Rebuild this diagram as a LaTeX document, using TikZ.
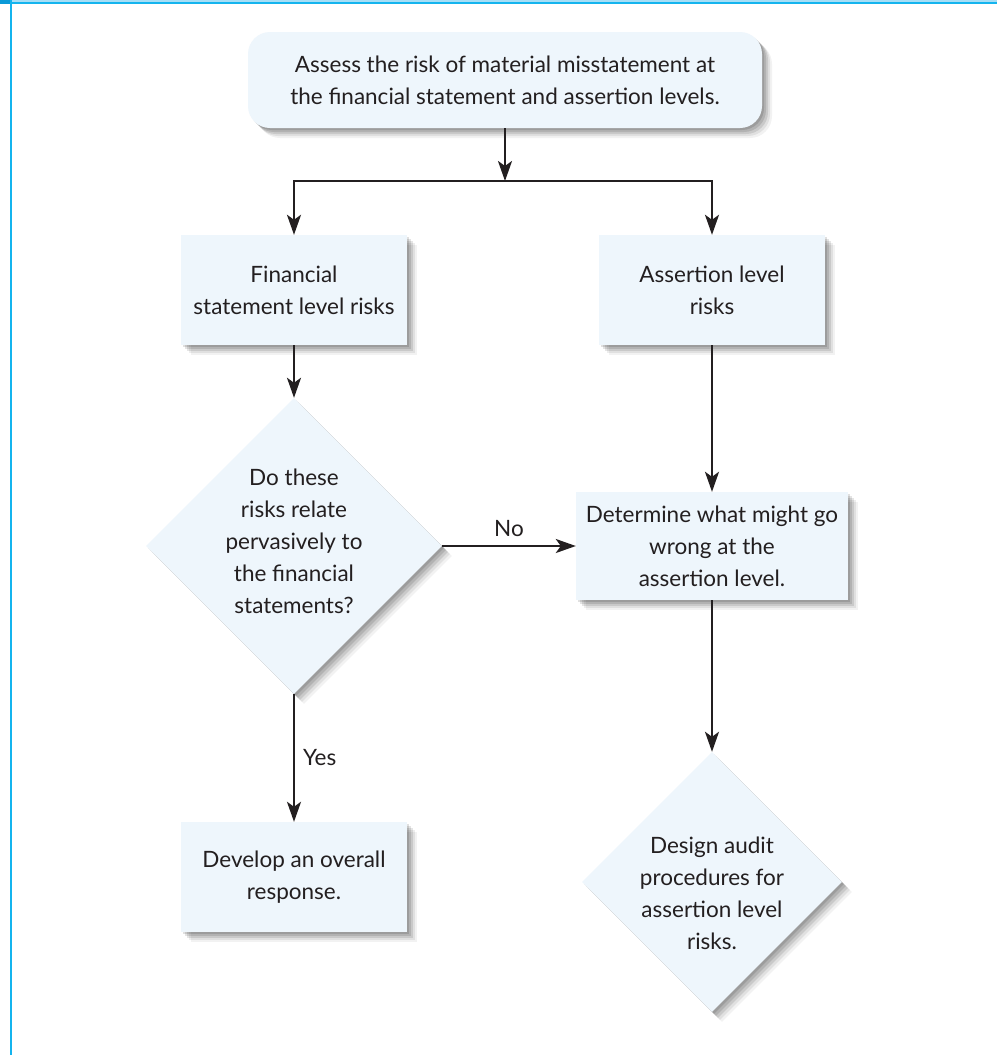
\documentclass[tikz,border=0pt]{standalone}
\usepackage{fontspec}
\setmainfont{Lato}
\usetikzlibrary{shapes.geometric,arrows.meta,shadows}

\definecolor{boxfill}{HTML}{EEF6FC}
\definecolor{inkgray}{HTML}{231F20}
\definecolor{framecyan}{HTML}{14B4EE}
\definecolor{bandlight}{HTML}{A6DEF6}
\definecolor{cornerblue}{HTML}{0A9AD8}

\tikzset{
  softshadow/.style={
    drop shadow={shadow xshift=10pt, shadow yshift=-10pt, opacity=0.05, fill=black},
    drop shadow={shadow xshift=8pt, shadow yshift=-8pt, opacity=0.07, fill=black},
    drop shadow={shadow xshift=6pt, shadow yshift=-6pt, opacity=0.10, fill=black},
    drop shadow={shadow xshift=4pt, shadow yshift=-4pt, opacity=0.11, fill=black},
    drop shadow={shadow xshift=2pt, shadow yshift=-2pt, opacity=0.12, fill=black}
  },
  txt/.style={text=inkgray, align=center, font=\fontsize{22.5}{32}\selectfont},
  stepbox/.style={rectangle, fill=boxfill, softshadow, txt, inner sep=0pt,
    minimum width=226pt, minimum height=110pt},
  widebox/.style={stepbox, minimum width=272pt, minimum height=108pt},
  startbox/.style={stepbox, rounded corners=22pt, minimum width=514pt, minimum height=96pt},
  decision/.style={diamond, fill=boxfill, softshadow, inner sep=0pt, shape aspect=1},
  flow/.style={draw=inkgray, line width=2.2pt,
    -{Stealth[length=20pt, width=14pt, inset=5pt]}},
  branchlabel/.style={txt, inner sep=2pt}
}

\begin{document}
\begin{tikzpicture}[x=1pt, y=-1pt]
  \useasboundingbox (0,0) rectangle (997,1055);
  \fill[white] (0,0) rectangle (997,1055);

  % page frame: blue band along the top, thin rule down the left
  \fill[bandlight] (0,0) rectangle (997,2);
  \fill[framecyan] (0,2) rectangle (997,4);
  \fill[cornerblue] (0,0) rectangle (10,4);
  \fill[framecyan] (10,0) rectangle (11.5,1055);

  % nodes
  \node[startbox] (assess) at (505,80)
    {Assess the risk of material misstatement at\\the financial statement and assertion levels.};
  \coordinate (split) at (505,181);

  \node[stepbox] (fslevel) at (294,290) {Financial\\statement level risks};
  \node[stepbox] (aslevel) at (712,290) {Assertion level\\risks};

  \node[decision, minimum width=296pt, minimum height=296pt] (pervasive) at (294,546) {};
  \node[txt] (pervasivetext) at (294,541)
    {Do these\\risks relate\\pervasively to\\the financial\\statements?};

  \node[widebox] (wrong) at (712,546)
    {Determine what might go\\wrong at the\\assertion level.};

  \node[decision, minimum width=260pt, minimum height=260pt] (design) at (712,882) {};
  \node[txt] (designtext) at (712,893)
    {Design audit\\procedures for\\assertion level\\risks.};

  \node[stepbox] (overall) at (294,877) {Develop an overall\\response.};

  % connectors
  \draw[flow] (assess) -- (split);
  \draw[flow] (split) -| (fslevel);
  \draw[flow] (split) -| (aslevel);
  \draw[flow] (fslevel) -- (pervasive);
  \draw[flow] (aslevel) -- (wrong);
  \draw[flow] (pervasive) -- node[branchlabel, above=6pt] (nolabel) {No} (wrong);
  \draw[flow] (pervasive) -- node[branchlabel, right=6pt, pos=0.5] (yeslabel) {Yes} (overall);
  \draw[flow] (wrong) -- (design);
\end{tikzpicture}
\end{document}
